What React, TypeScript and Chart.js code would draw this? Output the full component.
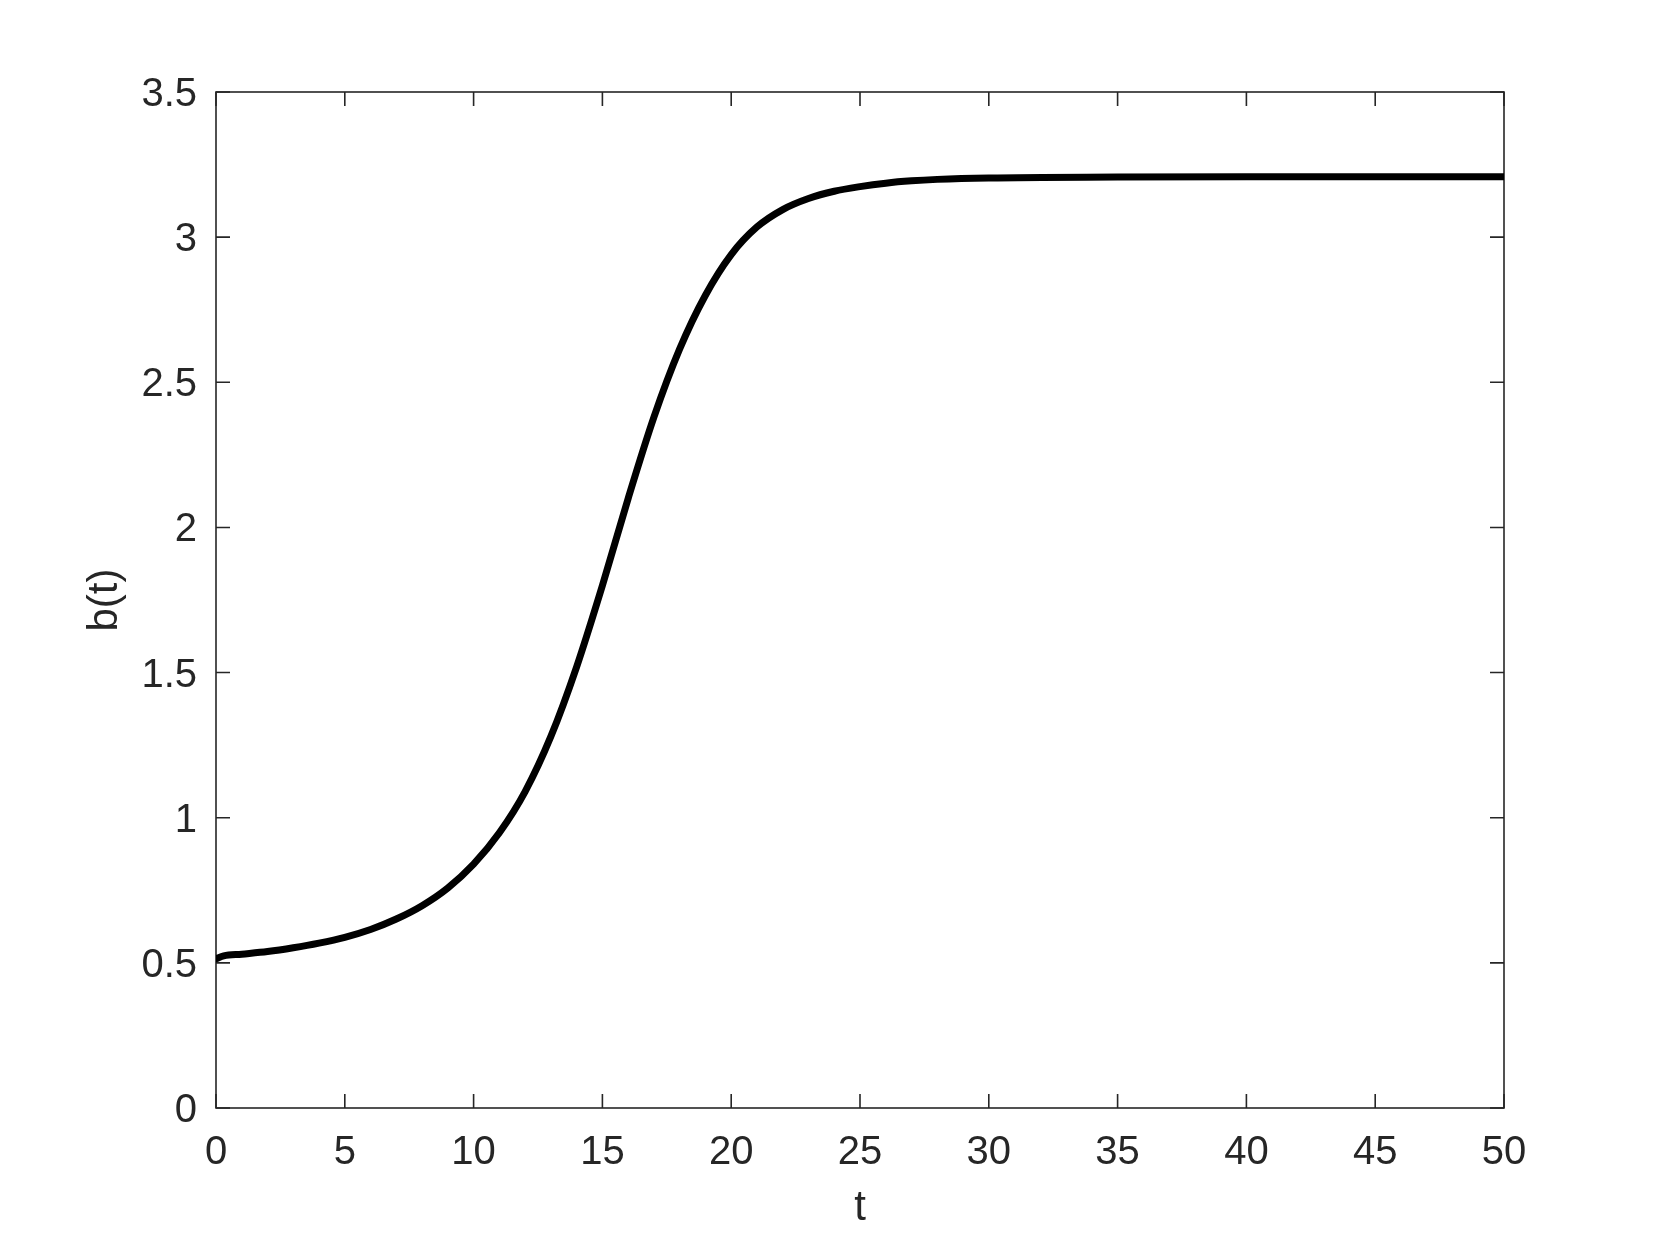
import React, { useEffect, useRef } from "react";
import { Chart, registerables } from "chart.js";

Chart.register(...registerables);

// ---- data ----
const tValues = [0, 0.3, 1, 2, 3, 4, 5, 6, 7, 8, 9, 10, 11, 12, 13, 14, 15, 16, 17, 18, 19, 20, 21, 22, 23, 24, 25, 26, 27, 28, 30, 35, 40, 45, 50];
const bValues = [0.514, 0.524, 0.53, 0.539, 0.552, 0.568, 0.588, 0.615, 0.651, 0.697, 0.758, 0.84, 0.948, 1.09, 1.28, 1.52, 1.8, 2.1, 2.38, 2.615, 2.8, 2.94, 3.035, 3.095, 3.133, 3.158, 3.174, 3.186, 3.194, 3.199, 3.204, 3.207, 3.208, 3.208, 3.208];
const xTickValues = [0, 5, 10, 15, 20, 25, 30, 35, 40, 45, 50];
const yTickValues = [0, 0.5, 1, 1.5, 2, 2.5, 3, 3.5];
const xLabel = "t";
const yLabel = "b(t)";

// ---- layout / style ----
const W = 1661;
const H = 1246;
const AREA = { left: 216, top: 92, right: 1504, bottom: 1108 };
const AXIS_COLOR = "#262626";
const FONT = "'Liberation Sans', Arial, Helvetica, sans-serif";
const TICK_LEN = 14;

const boxPlugin = {
  id: "matlabBox",
  beforeDatasetsDraw(chart: any) {
    const { ctx, chartArea, scales } = chart;
    const { left, right, top, bottom } = chartArea;
    ctx.save();
    ctx.strokeStyle = AXIS_COLOR;
    ctx.lineWidth = 1.6;
    ctx.beginPath();
    for (const v of xTickValues) {
      const px = scales.x.getPixelForValue(v);
      ctx.moveTo(px, bottom);
      ctx.lineTo(px, bottom - TICK_LEN);
      ctx.moveTo(px, top);
      ctx.lineTo(px, top + TICK_LEN);
    }
    for (const v of yTickValues) {
      const py = scales.y.getPixelForValue(v);
      ctx.moveTo(left, py);
      ctx.lineTo(left + TICK_LEN, py);
      ctx.moveTo(right, py);
      ctx.lineTo(right - TICK_LEN, py);
    }
    ctx.stroke();
    ctx.strokeRect(left, top, right - left, bottom - top);
    ctx.restore();
  },
};

export default function App() {
  const ref = useRef<HTMLCanvasElement | null>(null);

  useEffect(() => {
    if (!ref.current) return;
    const points = tValues.map((t, i) => ({ x: t, y: bValues[i] }));
    const chart = new Chart(ref.current, {
      type: "scatter",
      data: {
        datasets: [
          {
            data: points,
            showLine: true,
            borderColor: "#000000",
            backgroundColor: "#000000",
            borderWidth: 7,
            pointRadius: 0,
            cubicInterpolationMode: "monotone",
            borderCapStyle: "round",
            borderJoinStyle: "round",
          } as any,
        ],
      },
      options: {
        responsive: false,
        animation: false,
        devicePixelRatio: 1,
        layout: {
          padding: { left: 0, top: AREA.top, right: W - AREA.right, bottom: 0 },
        },
        plugins: {
          legend: { display: false },
          tooltip: { enabled: false },
        },
        scales: {
          x: {
            type: "linear",
            min: 0,
            max: 50,
            afterBuildTicks: (s: any) => {
              s.ticks = xTickValues.map((v) => ({ value: v }));
            },
            afterFit: (s: any) => {
              s.height = H - AREA.bottom;
            },
            grid: { display: false, drawTicks: false },
            border: { display: false },
            ticks: {
              color: AXIS_COLOR,
              font: { family: FONT, size: 40 },
              padding: 21,
              maxRotation: 0,
              autoSkip: false,
              callback: (v: any) => String(v),
            },
            title: {
              display: true,
              text: xLabel,
              color: AXIS_COLOR,
              font: { family: FONT, size: 42 },
              padding: { top: 0, bottom: 12 },
            },
          },
          y: {
            type: "linear",
            min: 0,
            max: 3.5,
            afterBuildTicks: (s: any) => {
              s.ticks = yTickValues.map((v) => ({ value: v }));
            },
            afterFit: (s: any) => {
              s.width = AREA.left;
            },
            grid: { display: false, drawTicks: false },
            border: { display: false },
            ticks: {
              color: AXIS_COLOR,
              font: { family: FONT, size: 40 },
              padding: 19,
              labelOffset: 3,
              autoSkip: false,
              callback: (v: any) => String(v),
            },
            title: {
              display: true,
              text: yLabel,
              color: AXIS_COLOR,
              font: { family: FONT, size: 42 },
              padding: { top: 80, bottom: 0 },
            },
          },
        },
      } as any,
      plugins: [boxPlugin],
    });
    return () => chart.destroy();
  }, []);

  return (
    <div style={{ position: "fixed", left: 0, top: 0, width: W, height: H, background: "#ffffff" }}>
      <canvas ref={ref} width={W} height={H} style={{ display: "block", width: W, height: H }} />
    </div>
  );
}
